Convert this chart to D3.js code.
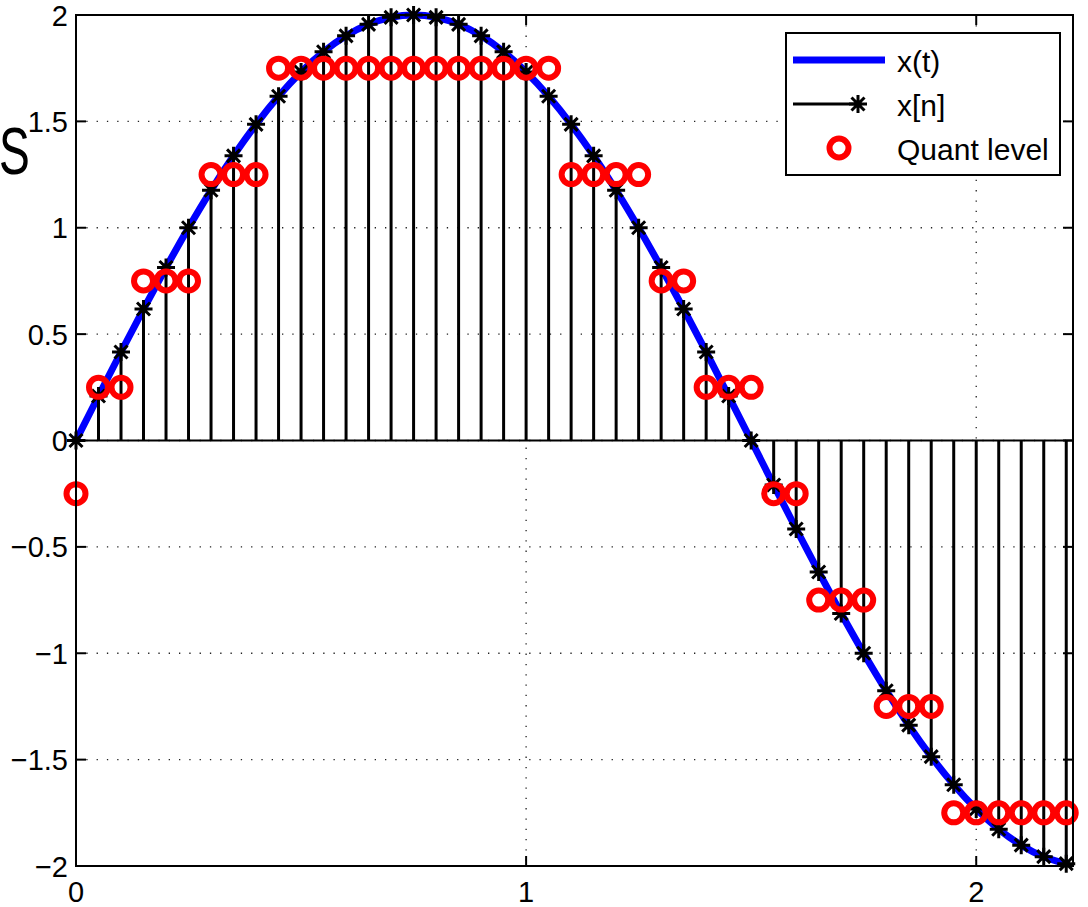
<!DOCTYPE html>
<html>
<head>
<meta charset="utf-8">
<script src="https://cdn.jsdelivr.net/npm/d3@7"></script>
<style>
  html, body { margin: 0; padding: 0; background: #fff; }
  svg { display: block; }
  text { font-family: "Liberation Sans", Arial, Helvetica, sans-serif; }
</style>
</head>
<body>
<svg id="chart" width="1088" height="907"></svg>
<script>
// ---- data ----
const tSamples = [0, 0.05, 0.1, 0.15, 0.2, 0.25, 0.3, 0.35, 0.4, 0.45,
  0.5, 0.55, 0.6, 0.65, 0.7, 0.75, 0.8, 0.85, 0.9, 0.95,
  1.0, 1.05, 1.1, 1.15, 1.2, 1.25, 1.3, 1.35, 1.4, 1.45,
  1.5, 1.55, 1.6, 1.65, 1.7, 1.75, 1.8, 1.85, 1.9, 1.95,
  2.0, 2.05, 2.1, 2.15, 2.2];
const xSamples = [0, 0.209, 0.416, 0.618, 0.813, 1.0, 1.176, 1.338, 1.486, 1.618,
  1.732, 1.827, 1.902, 1.956, 1.989, 2.0, 1.989, 1.956, 1.902, 1.827,
  1.732, 1.618, 1.486, 1.338, 1.176, 1.0, 0.813, 0.618, 0.416, 0.209,
  0, -0.209, -0.416, -0.618, -0.813, -1.0, -1.176, -1.338, -1.486, -1.618,
  -1.732, -1.827, -1.902, -1.956, -1.989];
const quantLevels = [-0.25, 0.25, 0.25, 0.75, 0.75, 0.75, 1.25, 1.25, 1.25, 1.75,
  1.75, 1.75, 1.75, 1.75, 1.75, 1.75, 1.75, 1.75, 1.75, 1.75,
  1.75, 1.75, 1.25, 1.25, 1.25, 1.25, 0.75, 0.75, 0.25, 0.25,
  0.25, -0.25, -0.25, -0.75, -0.75, -0.75, -1.25, -1.25, -1.25, -1.75,
  -1.75, -1.75, -1.75, -1.75, -1.75];
const xTicks = [0, 1, 2];
const yTicks = [-2, -1.5, -1, -0.5, 0, 0.5, 1, 1.5, 2];
const legendLabels = ["x(t)", "x[n]", "Quant level"];
const xDomain = [0, 2.215];
const yDomain = [-2, 2];

// ---- layout ----
const svg = d3.select("#chart");
const L = 76, R = 1073, T = 15, B = 866;
const x = d3.scaleLinear().domain(xDomain).range([L, R]);
const y = d3.scaleLinear().domain(yDomain).range([B, T]);
const fmt = v => (v < 0 ? "\u2212" : "") + Math.abs(v);

svg.append("rect").attr("width", 1088).attr("height", 907).attr("fill", "#fff");

// grid
const grid = svg.append("g").attr("stroke", "#222").attr("stroke-width", 1.3)
  .attr("stroke-dasharray", "1.3,9");
grid.selectAll("line.gx").data(xTicks.filter(d => d > 0)).enter().append("line")
  .attr("x1", d => x(d)).attr("x2", d => x(d)).attr("y1", T).attr("y2", B);
grid.selectAll("line.gy").data(yTicks.filter(d => d > -2 && d < 2)).enter().append("line")
  .attr("y1", d => y(d)).attr("y2", d => y(d)).attr("x1", L).attr("x2", R);

// continuous signal
const line = d3.line().x((d, i) => x(tSamples[i])).y(d => y(d)).curve(d3.curveNatural);
svg.append("path").datum(xSamples).attr("d", line)
  .attr("fill", "none").attr("stroke", "#0000ff").attr("stroke-width", 7)
  .attr("stroke-linejoin", "round");

// stems
svg.append("g").selectAll("line").data(xSamples).enter().append("line")
  .attr("x1", (d, i) => x(tSamples[i])).attr("x2", (d, i) => x(tSamples[i]))
  .attr("y1", y(0)).attr("y2", d => y(d))
  .attr("stroke", "#000").attr("stroke-width", 3);

// baseline
svg.append("line").attr("x1", x(0)).attr("x2", R).attr("y1", y(0)).attr("y2", y(0))
  .attr("stroke", "#000").attr("stroke-width", 2.2);

// star markers
const starPath = "M-9,0H9M0,-9V9M-6.5,-6.5L6.5,6.5M-6.5,6.5L6.5,-6.5";
svg.append("g").selectAll("path").data(xSamples).enter().append("path")
  .attr("transform", (d, i) => `translate(${x(tSamples[i])},${y(d)})`)
  .attr("d", starPath).attr("stroke", "#000").attr("stroke-width", 3).attr("fill", "none");

// quant level circles
svg.append("g").selectAll("circle").data(quantLevels).enter().append("circle")
  .attr("cx", (d, i) => x(tSamples[i])).attr("cy", d => y(d)).attr("r", 9.5)
  .attr("fill", "none").attr("stroke", "#ff0000").attr("stroke-width", 6);

// axes box
svg.append("rect").attr("x", L).attr("y", T).attr("width", R - L).attr("height", B - T)
  .attr("fill", "none").attr("stroke", "#000").attr("stroke-width", 2);

// ticks (inward, all four sides)
const tl = 10;
const tk = svg.append("g").attr("stroke", "#000").attr("stroke-width", 2);
xTicks.forEach(v => {
  tk.append("line").attr("x1", x(v)).attr("x2", x(v)).attr("y1", B).attr("y2", B - tl);
  tk.append("line").attr("x1", x(v)).attr("x2", x(v)).attr("y1", T).attr("y2", T + tl);
});
yTicks.forEach(v => {
  tk.append("line").attr("y1", y(v)).attr("y2", y(v)).attr("x1", L).attr("x2", L + tl);
  tk.append("line").attr("y1", y(v)).attr("y2", y(v)).attr("x1", R).attr("x2", R - tl);
});

// tick labels
svg.append("g").selectAll("text").data(xTicks).enter().append("text")
  .attr("x", d => x(d)).attr("y", 902).attr("text-anchor", "middle")
  .attr("font-size", 29).attr("fill", "#000").text(fmt);
svg.append("g").selectAll("text").data(yTicks).enter().append("text")
  .attr("x", 68).attr("y", d => y(d) + 10.5).attr("text-anchor", "end")
  .attr("font-size", 29).attr("fill", "#000").text(fmt);

// big "S" at the left edge (narrow, tall)
svg.append("text").attr("transform", "translate(-1,174) scale(0.7,1)")
  .attr("font-size", 66).attr("fill", "#000").text("S");

// legend
const lg = svg.append("g");
lg.append("rect").attr("x", 786).attr("y", 33).attr("width", 274).attr("height", 142)
  .attr("fill", "#fff").attr("stroke", "#000").attr("stroke-width", 2);
const rowY = [60, 104, 148];
lg.append("line").attr("x1", 793).attr("x2", 885).attr("y1", rowY[0]).attr("y2", rowY[0])
  .attr("stroke", "#0000ff").attr("stroke-width", 7);
lg.append("line").attr("x1", 793).attr("x2", 858).attr("y1", rowY[1]).attr("y2", rowY[1])
  .attr("stroke", "#000").attr("stroke-width", 3);
lg.append("path").attr("transform", `translate(858,${rowY[1]})`).attr("d", starPath)
  .attr("stroke", "#000").attr("stroke-width", 3);
lg.append("circle").attr("cx", 839).attr("cy", rowY[2]).attr("r", 9.5)
  .attr("fill", "none").attr("stroke", "#ff0000").attr("stroke-width", 6);
lg.selectAll("text").data(legendLabels).enter().append("text")
  .attr("x", 897).attr("y", (d, i) => rowY[i] + 12).attr("font-size", 30)
  .attr("fill", "#000").text(d => d);
</script>
</body>
</html>
